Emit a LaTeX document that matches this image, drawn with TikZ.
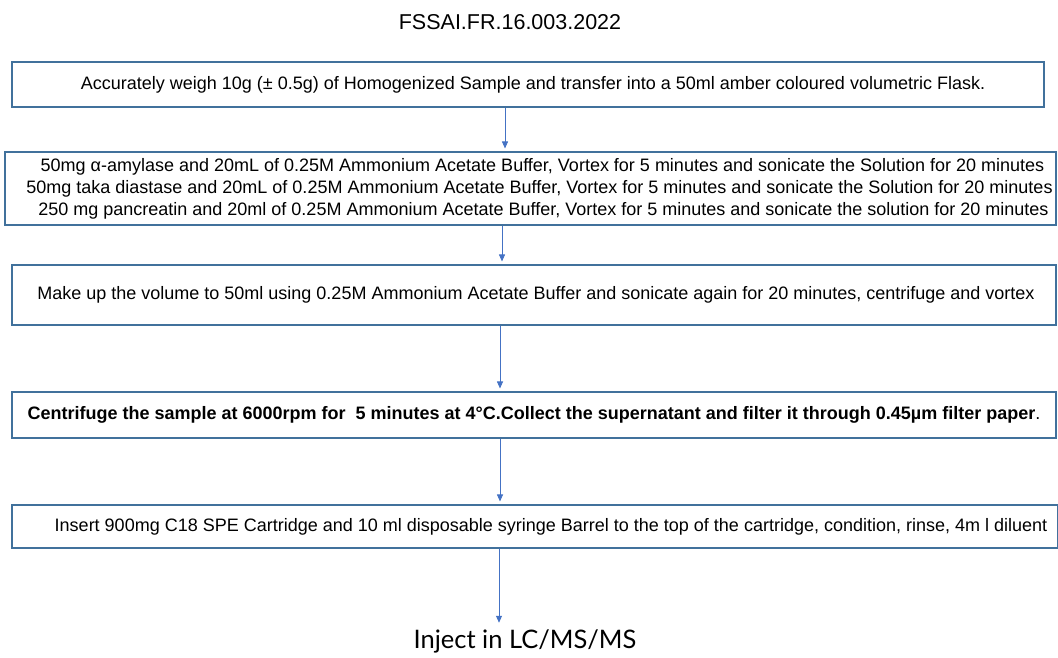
\documentclass[tikz,border=0pt]{standalone}
\usepackage{fontspec}
\setmainfont{Liberation Sans}
\newfontfamily\injfont{Lato}
\usetikzlibrary{arrows.meta}

\definecolor{boxline}{HTML}{41719C}
\definecolor{arrowline}{HTML}{4472C4}

\tikzset{
  stepbox/.style={draw=boxline, line width=1.1pt, inner sep=0pt, align=center,
    font=\fontsize{18}{22}\selectfont},
  flow/.style={draw=arrowline, line width=0.9pt, -{Triangle[width=6pt,length=7pt]}, shorten >=3pt}
}

\begin{document}
\begin{tikzpicture}[x=1pt, y=-1pt]
	\useasboundingbox (0,0) rectangle (1058,657);

	\node[font=\fontsize{21.5}{24}\selectfont] at (510,22) (title) {FSSAI.FR.16.003.2022};

	\node[stepbox, minimum width=1032pt, minimum height=45pt] at (528,84.5) (weigh)
		{\hspace*{10pt}Accurately weigh 10g ({\char"00B1} 0.5g) of Homogenized Sample and transfer into a 50ml amber coloured volumetric Flask.}; %step 1
	\node[stepbox, minimum width=1051pt, minimum height=73pt] at (530.5,188.5) (enzyme)
		{\hspace*{24pt}50mg {\char"03B1}-amylase and 20mL of 0.25M Ammonium Acetate Buffer, Vortex for 5 minutes and sonicate the Solution for 20 minutes\\
		\hspace*{18pt}50mg taka diastase and 20mL of 0.25M Ammonium Acetate Buffer, Vortex for 5 minutes and sonicate the Solution for 20 minutes\\
		\hspace*{26pt}250 mg pancreatin and 20ml of 0.25M Ammonium Acetate Buffer, Vortex for 5 minutes and sonicate the solution for 20 minutes}; %step 2
	\node[stepbox, minimum width=1044pt, minimum height=60pt] at (534,295) (makeup)
		{\hspace*{4pt}Make up the volume to 50ml using 0.25M Ammonium Acetate Buffer and sonicate again for 20 minutes, centrifuge and vortex}; %step 3
	\node[stepbox, minimum width=1044pt, minimum height=46pt] at (534,415) (centri)
		{\textbf{Centrifuge the sample at 6000rpm for\ \ 5 minutes at 4{\char"00B0}C.Collect the supernatant and filter it through 0.45{\char"00B5}m filter paper}.}; %step 4
	\node[stepbox, minimum width=1046pt, minimum height=43pt] at (535,526.5) (spe)
		{\hspace*{32pt}Insert 900mg C18 SPE Cartridge and 10 ml disposable syringe Barrel to the top of the cartridge, condition, rinse, 4m l diluent}; %step 5

	\node[font=\injfont\fontsize{25.5}{28}\selectfont] at (525,641) (inject) {Inject in LC/MS/MS};

	\draw[flow] (weigh.south -| 505,0) -- (enzyme.north -| 505,0);
	\draw[flow] (enzyme.south -| 502,0) -- (makeup.north -| 502,0);
	\draw[flow] (makeup.south -| 500,0) -- (centri.north -| 500,0);
	\draw[flow] (centri.south -| 500,0) -- (spe.north -| 500,0);
	\draw[flow] (spe.south -| 499,0) -- (inject.north -| 499,0);
\end{tikzpicture}
\end{document}
